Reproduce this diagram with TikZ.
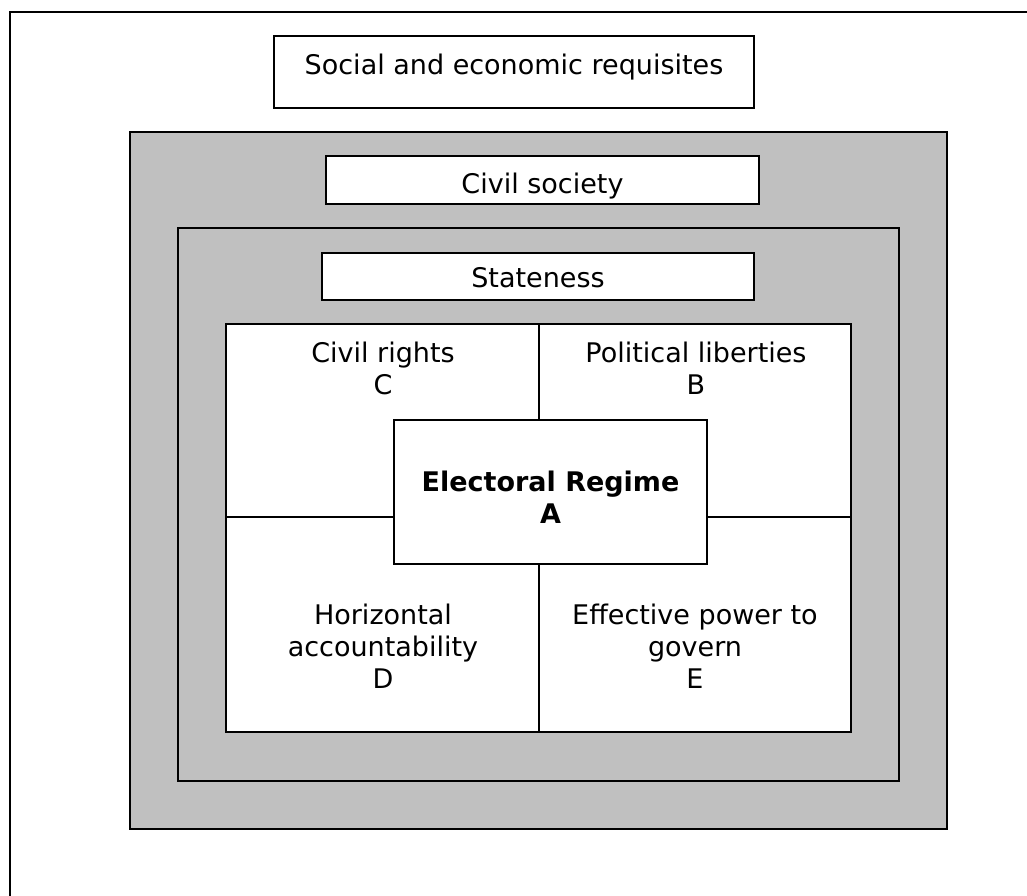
\documentclass[tikz,border=0pt]{standalone}
\usepackage{fontspec}
\setmainfont{DejaVu Sans}
\usepackage{xcolor}
\usetikzlibrary{positioning}
\definecolor{bandgray}{HTML}{C0C0C0}
\tikzset{
  frameline/.style={black,line width=1.6pt},
  band/.style={draw=black,line width=1.6pt,fill=bandgray,inner sep=0pt},
  whitebox/.style={draw=black,line width=1.6pt,fill=white,inner sep=0pt},
  crossline/.style={black,line width=1.4pt},
  celltext/.style={inner sep=0pt,align=center,font=\fontsize{27}{32}\selectfont}
}
\begin{document}
\begin{tikzpicture}[x=1pt,y=-1pt]
  \useasboundingbox (0,0) rectangle (1027,895);
  % open page frame (top and left only)
  \draw[frameline] (1040,12) -- (10,12) -- (10,910);
  % boxes
  \node[whitebox,minimum width=480,minimum height=72] (social) at (514,72) {};
  \node[band,minimum width=817,minimum height=697] (society) at (538.5,480.5) {};
  \node[whitebox,minimum width=433,minimum height=48] (civilbox) at (542.5,180) {};
  \node[band,minimum width=721,minimum height=553] (state) at (538.5,504.5) {};
  \node[whitebox,minimum width=432,minimum height=47] (statebox) at (538,276.5) {};
  \node[whitebox,minimum width=625,minimum height=408] (grid) at (538.5,528) {};
  \coordinate (cross) at (539,517);
  \node[whitebox,minimum width=313,minimum height=144] (regime) at (550.5,492) {};
  % lines of the grid
  \draw[crossline] (grid.north -| cross) -- (regime.north -| cross);
  \draw[crossline] (regime.south -| cross) -- (grid.south -| cross);
  \draw[crossline] (grid.west |- cross) -- (regime.west |- cross);
  \draw[crossline] (regime.east |- cross) -- (grid.east |- cross);
  % texts
  \node[celltext] (socialtext) at (514,67) {Social and economic requisites};
  \node[celltext] (civiltext) at (542.5,186) {Civil society};
  \node[celltext] (statetext) at (538,278) {Stateness};
  \node[celltext] (rights) at (383,368) {Civil rights\\C};
  \node[celltext] (liberties) at (696,368) {Political liberties\\B};
  \node[celltext,font=\fontsize{27}{32}\selectfont\bfseries] (regimetext) at (550.5,497) {Electoral Regime\\A};
  \node[celltext] (account) at (383,646) {Horizontal\\accountability\\D};
  \node[celltext] (power) at (695,646) {Effective power to\\govern\\E};
\end{tikzpicture}
\end{document}
